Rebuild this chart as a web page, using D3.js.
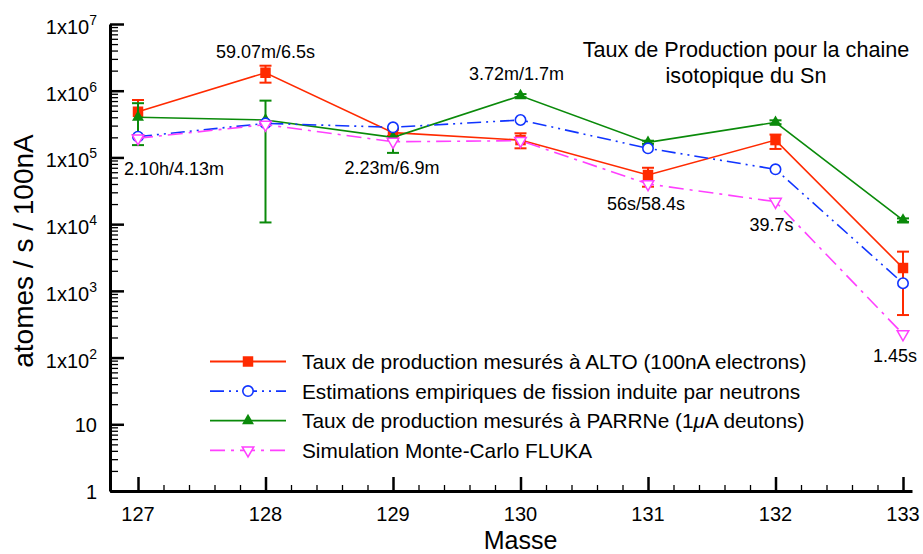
<!DOCTYPE html>
<html><head><meta charset="utf-8">
<script src="https://cdn.jsdelivr.net/npm/d3@7"></script>
<style>body{margin:0;background:#fff} svg text{font-family:"Liberation Sans",Arial,Helvetica,sans-serif;fill:#000}</style>
</head><body><svg id="c" width="923" height="554"></svg>
<script>
// ---- data ----
const masses = [127,128,129,130,131,132,133];
const altoValues = [4.84e5,1.86e6,2.35e5,1.82e5,5.45e4,1.82e5,2.2e3];
const altoLow    = [2.17e5,1.32e6,2.1e5,1.37e5,3.64e4,1.34e5,434];
const altoHigh   = [7.26e5,2.37e6,2.6e5,2.3e5,7.0e4,2.2e5,3.87e3];
const empiricalValues = [2.05e5,3.24e5,2.83e5,3.64e5,1.37e5,6.64e4,1.30e3];
const parrneValues = [4.0e5,3.64e5,2.0e5,8.4e5,1.68e5,3.36e5,1.15e4];
const parrneLow    = [1.53e5,1.06e4,1.17e5,8.0e5,1.6e5,3.15e5,1.08e4];
const parrneHigh   = [6.5e5,7.1e5,2.76e5,8.9e5,1.78e5,3.6e5,1.22e4];
const flukaValues = [1.94e5,3.1e5,1.72e5,1.78e5,4.0e4,2.17e4,225];
const halfLifeLabels = ["2.10h/4.13m","59.07m/6.5s","2.23m/6.9m","3.72m/1.7m","56s/58.4s","39.7s","1.45s"];
const yTickValues = [1,10,100,1e3,1e4,1e5,1e6,1e7];
const yTickLabels = ["1","10","1x10|2","1x10|3","1x10|4","1x10|5","1x10|6","1x10|7"];
const legendLabels = [
  ["Taux de production mesurés à ALTO (100nA electrons)"],
  ["Estimations empiriques de fission induite par neutrons"],
  ["Taux de production mesurés à PARRNe (1", "\u03BC", "A deutons)"],
  ["Simulation Monte-Carlo FLUKA"]];
const titleLines = ["Taux de Production pour la chaine","isotopique du Sn"];
const xTitle = "Masse", yTitle = "atomes / s / 100nA";

// ---- layout ----
const svg = d3.select("#c");
const x = d3.scaleLinear().domain([127 - 28/127.5, 133 + 9/127.5]).range([110, 912]);
const y = d3.scaleLog().domain([1, 1e7]).range([491, 24]);

const colors = {red:"#ff2a00", blue:"#1034ff", green:"#0a8a0a", mag:"#ff40ff"};

// minor ticks
const yMinor = [];
for (let e = 0; e < 7; e++) for (let k = 2; k <= 9; k++) yMinor.push(k * Math.pow(10, e));
const xMinor = d3.range(127, 133.01, 0.2).map(v => +v.toFixed(2)).filter(v => Math.abs(v - Math.round(v)) > 1e-6);

const gy = svg.append("g").attr("transform","translate(110,0)");
gy.append("g").call(d3.axisLeft(y).tickValues(yMinor).tickSize(-8).tickSizeOuter(0).tickFormat(""))
  .call(g => g.select(".domain").remove());
gy.append("g").call(d3.axisLeft(y).tickValues(yTickValues).tickSize(-14).tickSizeOuter(0).tickFormat(""))
  .call(g => g.select(".domain").attr("stroke-width",3));
gy.selectAll(".tick line").attr("stroke","#000").attr("stroke-width",1.3);
gy.selectAll("g.tick").filter(d => yTickValues.includes(d)).select("line").attr("stroke-width",2.5);

const gx = svg.append("g").attr("transform","translate(0,491)");
gx.append("g").call(d3.axisBottom(x).tickValues(xMinor).tickSize(-6).tickSizeOuter(0).tickFormat(""))
  .call(g => g.select(".domain").remove());
gx.append("g").call(d3.axisBottom(x).tickValues(masses).tickSize(-14).tickSizeOuter(0).tickFormat(""))
  .call(g => g.select(".domain").attr("stroke-width",3));
gx.selectAll(".tick line").attr("stroke","#000").attr("stroke-width",1.3);
gx.selectAll("g.tick").filter(d => masses.includes(d)).select("line").attr("stroke-width",2.5);

// y tick labels
yTickValues.forEach((v,i) => {
  const parts = yTickLabels[i].split("|");
  const t = svg.append("text").attr("x",97).attr("text-anchor","end").attr("font-size",20)
    .attr("y", y(v) + (parts.length > 1 ? 10 : 8));
  t.append("tspan").text(parts[0]);
  if (parts.length > 1) t.append("tspan").attr("font-size",14).attr("dy",-9).text(parts[1]);
});
// x tick labels
masses.forEach(m => svg.append("text").attr("x", x(m)).attr("y",521).attr("text-anchor","middle")
  .attr("font-size",20).text(m));

svg.append("text").attr("x", x(130)).attr("y",549).attr("text-anchor","middle").attr("font-size",25).text(xTitle);
svg.append("text").attr("transform","translate(33,251) rotate(-90)").attr("text-anchor","middle")
  .attr("font-size",28).text(yTitle);

// series
const series = [
  {vals:altoValues, lo:altoLow, hi:altoHigh, color:colors.red, dash:null, sym:"square"},
  {vals:parrneValues, lo:parrneLow, hi:parrneHigh, color:colors.green, dash:null, sym:"tri"},
  {vals:empiricalValues, color:colors.blue, dash:"14,5,2,5,2,5", sym:"circle"},
  {vals:flukaValues, color:colors.mag, dash:"15,6,3,6", sym:"tridown"}
];
const legendOrder = [0,2,1,3];

function drawSymbol(g, sym, color, cx, cy) {
  if (sym === "square") {
    g.append("path").attr("d", d3.symbol(d3.symbolSquare, 110)()).attr("transform",`translate(${cx},${cy})`)
      .attr("fill",color);
  } else if (sym === "tri") {
    g.append("path").attr("d", d3.symbol(d3.symbolTriangle, 62)()).attr("transform",`translate(${cx},${cy})`)
      .attr("fill",color);
  } else if (sym === "circle") {
    g.append("circle").attr("cx",cx).attr("cy",cy).attr("r",5.2).attr("fill","#fff")
      .attr("stroke",color).attr("stroke-width",1.6);
  } else {
    g.append("path").attr("d", d3.symbol(d3.symbolTriangle, 58)()).attr("transform",`translate(${cx},${cy}) rotate(180)`)
      .attr("fill","#fff").attr("stroke",color).attr("stroke-width",1.5);
  }
}

const line = d3.line().x((d,i) => x(masses[i])).y(d => y(d));
series.forEach(s => {
  const g = svg.append("g");
  g.append("path").attr("d", line(s.vals)).attr("fill","none").attr("stroke",s.color)
    .attr("stroke-width",1.6).attr("stroke-dasharray", s.dash);
  if (s.lo) s.vals.forEach((v,i) => {
    const cx = x(masses[i]);
    g.append("line").attr("x1",cx).attr("x2",cx).attr("y1",y(s.lo[i])).attr("y2",y(s.hi[i]))
      .attr("stroke",s.color).attr("stroke-width",2);
    [s.lo[i], s.hi[i]].forEach(b => g.append("line").attr("x1",cx-6).attr("x2",cx+6)
      .attr("y1",y(b)).attr("y2",y(b)).attr("stroke",s.color).attr("stroke-width",2));
  });
  s.vals.forEach((v,i) => drawSymbol(g, s.sym, s.color, x(masses[i]), y(v)));
});

// half-life annotations (offsets from the mass position)
const annOffsets = [[36,175],[0,58],[-1,173.5],[-4,80],[-2,210],[-4,231],[-8,361.5]];
halfLifeLabels.forEach((t,i) => svg.append("text").attr("x", x(masses[i]) + annOffsets[i][0])
  .attr("y", annOffsets[i][1]).attr("text-anchor","middle").attr("font-size",18).text(t));

// title
titleLines.forEach((t,i) => svg.append("text").attr("x",746).attr("y",57 + i*26)
  .attr("text-anchor","middle").attr("font-size",21.6).text(t));

// legend
legendOrder.forEach((si,row) => {
  const s = series[si], ly = 361.5 + row*29.6;
  const g = svg.append("g");
  g.append("line").attr("x1",210).attr("x2",286).attr("y1",ly).attr("y2",ly).attr("stroke",s.color)
    .attr("stroke-width",1.8).attr("stroke-dasharray",s.dash);
  drawSymbol(g, s.sym, s.color, 248, ly);
  const t = g.append("text").attr("x",302).attr("y",ly+7.4).attr("font-size",20.8);
  legendLabels[row].forEach((p,k) => t.append("tspan").attr("font-style", k === 1 ? "italic" : null).text(p));
});
</script></body></html>
